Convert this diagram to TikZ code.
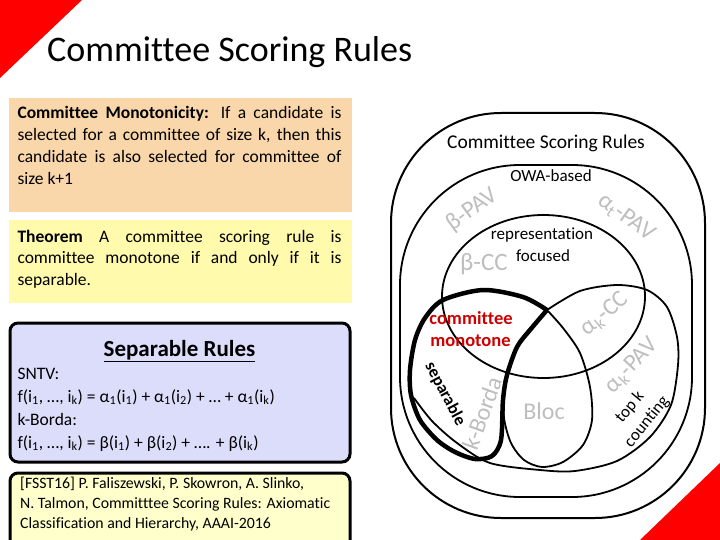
\documentclass[tikz,border=0pt]{standalone}
\usepackage{fontspec}
\setmainfont{Carlito}[Ligatures=NoCommon]
\definecolor{peach}{RGB}{250,215,170}
\definecolor{lyel}{RGB}{255,250,172}
\definecolor{lav}{RGB}{220,221,250}
\definecolor{pyel}{RGB}{255,255,204}
\definecolor{lgray}{RGB}{190,190,190}
\definecolor{mred}{RGB}{204,0,0}
\newcommand{\sbx}[1]{\textsubscript{#1}}
\begin{document}
\begin{tikzpicture}[x=1pt,y=-1pt,
  txt/.style={inner sep=0pt, anchor=base west, font=\fontsize{17.5}{21}\selectfont},
  reftxt/.style={inner sep=0pt, anchor=base west, font=\fontsize{15.8}{18}\selectfont},
  glbl/.style={inner sep=0pt, text=lgray, font=\fontsize{24}{24}\selectfont},
  vtxt/.style={inner sep=0pt, font=\fontsize{17}{17}\selectfont},
  venn/.style={line width=1.8pt},
  panel/.style={line width=3pt, rounded corners=8pt}]
\useasboundingbox (0,0) rectangle (720,540);
\fill[white] (0,0) rectangle (720,540);
\fill[red] (0,0) -- (82,0) -- (0,78) -- cycle;
\fill[red] (640,540) -- (720,463) -- (720,540) -- cycle;
\node[anchor=base west, inner sep=0, font=\fontsize{36}{40}\selectfont] (title) at (47,62) {Committee Scoring Rules};

% box 1
\fill[peach] (9,98) rectangle (352,212);
\node[txt] (m1) at (17.3,119) {\makebox[324pt][s]{\textbf{Committee Monotonicity:} If a candidate is}};
\node[txt] (m2) at (17.3,141) {\makebox[324pt][s]{selected for a committee of size k, then this}};
\node[txt] (m3) at (17.3,163) {\makebox[324pt][s]{candidate is also selected for committee of}};
\node[txt] (m4) at (17.3,185) {size k+1};

% box 2
\fill[lyel] (9,220) rectangle (352,303);
\node[txt] (t1) at (17.3,242) {\makebox[324pt][s]{\textbf{Theorem} A committee scoring rule is}};
\node[txt] (t2) at (17.3,263.5) {\makebox[324pt][s]{committee monotone if and only if it is}};
\node[txt] (t3) at (17.3,285) {separable.};

% box 3
\draw[panel, fill=lav] (10,323) rectangle (350,462);
\node[inner sep=0, anchor=base, font=\bfseries\fontsize{23}{23}\selectfont] (sr) at (179.5,356.5) {\underline{Separable Rules}};
\node[txt] (s1) at (17.3,379) {SNTV:};
\node[txt] (s2) at (17.3,402) {f(i\sbx{1}, …, i\sbx{k}) = α\sbx{1}(i\sbx{1}) + α\sbx{1}(i\sbx{2}) + … + α\sbx{1}(i\sbx{k})};
\node[txt] (s3) at (17.3,425) {k-Borda:};
\node[txt] (s4) at (17.3,448) {f(i\sbx{1}, …, i\sbx{k}) = β(i\sbx{1}) + β(i\sbx{2}) + …. + β(i\sbx{k})};

% box 4
\draw[panel, fill=pyel] (10,473) rectangle (350,556);
\node[reftxt] (r1) at (20,488) {[FSST16] P. Faliszewski, P. Skowron, A. Slinko,};
\node[reftxt] (r2) at (20,508) {N. Talmon, Committtee Scoring Rules: Axiomatic};
\node[reftxt] (r3) at (20,528) {Classification and Hierarchy, AAAI-2016};

% Venn diagram
\draw[venn, line width=2pt, rounded corners=110pt] (391,113) rectangle (705,518);
\draw[venn, rounded corners=120pt] (400,165) rectangle (692,497);
\draw[venn] (543.5,296.5) ellipse [x radius=101.5, y radius=81.5];
\draw[venn] plot[smooth] coordinates {(547,310) (580,291) (617,285) (647,290) (667,307) (677,337) (678,365) (671,405) (650,437) (617,461) (575,471) (540,470) (490,463) (457,443) (432,421) (414,398)};
\draw[venn] plot[smooth] coordinates {(547,310) (563,328) (580,353) (590,387) (592,420) (583,445) (563,462) (542,467) (524,460) (511,443) (504,418) (504,390) (509,365) (522,338) (547,310)};
\draw[line width=4.5pt] plot[smooth] coordinates {(547,310) (523,297) (483,290) (443,300) (425,318) (415,340) (410,370) (411,395) (420,420) (437,440) (455,452) (475,459) (492,456) (501,440) (503,400) (507,375) (517,347) (530,330) (547,310)};

\node[inner sep=0, anchor=base, font=\fontsize{19.5}{20}\selectfont] (csr) at (546,149) {Committee Scoring Rules};
\node[vtxt, anchor=base] (owa) at (551,181.5) {OWA-based};
\node[vtxt, anchor=base] (rep) at (542,240) {representation};
\node[vtxt, anchor=base] (foc) at (543,261.5) {focused};
\node[glbl, rotate=36] (bpav) at (472,210) {β-PAV};
\node[glbl, rotate=-36] (atpav) at (626,218) {α\sbx{t}-PAV};
\node[glbl, anchor=base, font=\fontsize{25}{25}\selectfont] (bcc) at (484,270) {β-CC};
\node[inner sep=0, anchor=base, text=mred, font=\bfseries\fontsize{18.5}{19}\selectfont] (cm1) at (471,324) {committee};
\node[inner sep=0, anchor=base, text=mred, font=\bfseries\fontsize{18.5}{19}\selectfont] (cm2) at (470.5,346.5) {monotone};
\node[inner sep=0, rotate=-62, font=\bfseries\fontsize{17}{17}\selectfont] (sep) at (445,394) {separable};
\node[glbl, rotate=70] (kb) at (482,413) {k-Borda};
\node[glbl] (bloc) at (544,411) {Bloc};
\node[glbl, rotate=40] (akcc) at (605,314) {α\sbx{k}-CC};
\node[glbl, rotate=47] (akpav) at (632,366) {α\sbx{k}-PAV};
\node[vtxt, rotate=50] (topk) at (630,407) {top k};
\node[vtxt, rotate=51] (cnt) at (647,422) {counting};
\end{tikzpicture}
\end{document}
